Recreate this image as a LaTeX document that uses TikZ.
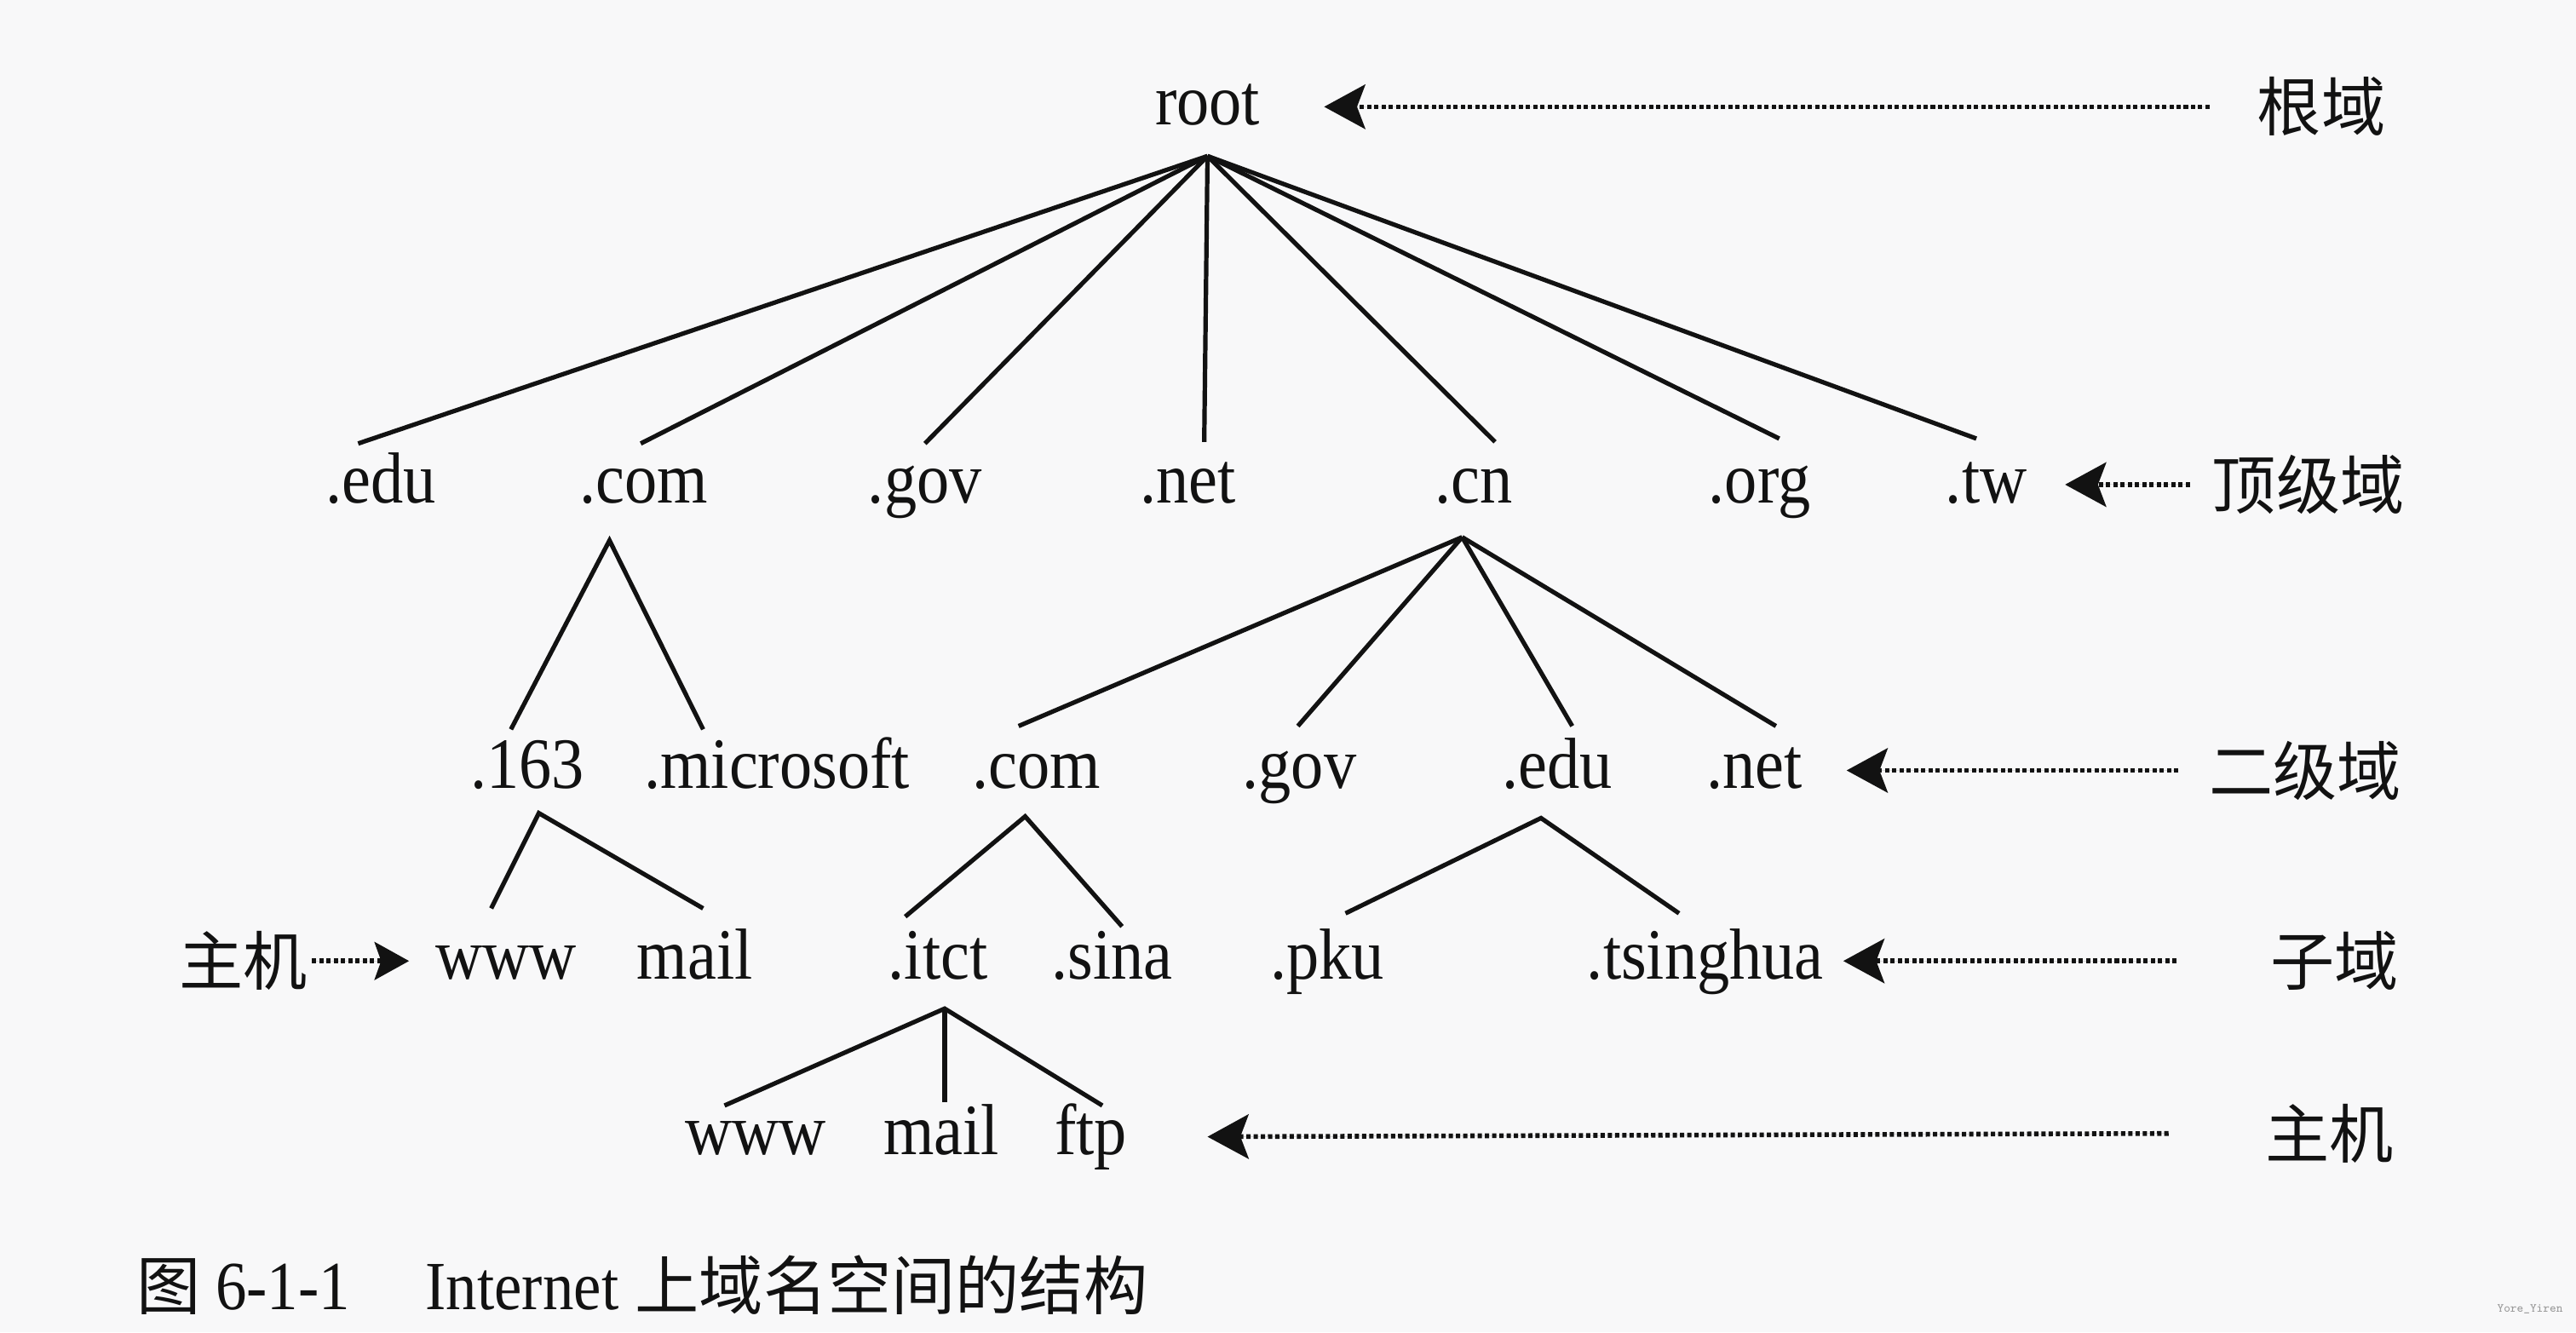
\documentclass[tikz,border=0pt]{standalone}
\usepackage{fontspec}
\setmainfont{Liberation Serif}[FakeStretch=0.9]
\newfontfamily\cjk{Noto Sans CJK SC}
\usetikzlibrary{arrows.meta}
\definecolor{bg}{RGB}{248,248,249}
\definecolor{ink}{RGB}{18,18,18}
\begin{document}
\begin{tikzpicture}[x=1pt,y=-1pt,
  lbl/.style={font=\fontsize{44}{50}\selectfont, inner sep=0pt, text height=32pt, text depth=10pt, text=ink},
  cn/.style={font=\cjk\fontsize{39}{45}\selectfont, inner sep=0pt, text=ink},
  edge/.style={line width=2.7pt, draw=ink},
  ptr/.style={line width=2.9pt, draw=ink, fill=ink, dash pattern=on 2.6pt off 1.8pt,
              -{Stealth[length=25pt,width=27pt,inset=5pt]}}]
\fill[bg] (0,0) rectangle (1568,811);
\useasboundingbox (0,0) rectangle (1568,811);

% ---- nodes ----
\node[lbl] (root) at (735,65) {root};

\node[lbl] (edu)  at (232,295) {.edu};
\node[lbl] (com)  at (392,295) {.com};
\node[lbl] (gov)  at (563,295) {.gov};
\node[lbl] (net)  at (723,295) {.net};
\node[lbl] (cn)   at (897,295) {.cn};
\node[lbl] (org)  at (1071,295) {.org};
\node[lbl] (tw)   at (1209,295) {.tw};

\node[lbl] (n163) at (321,469) {.163};
\node[lbl] (ms)   at (473,469) {.microsoft};
\node[lbl] (com2) at (631,469) {.com};
\node[lbl] (gov2) at (791,469) {.gov};
\node[lbl] (edu2) at (948,469) {.edu};
\node[lbl] (net2) at (1068,469) {.net};

\node[lbl] (www1)  at (308,585) {www};
\node[lbl] (mail1) at (423,585) {mail};
\node[lbl] (itct)  at (571,585) {.itct};
\node[lbl] (sina)  at (677,585) {.sina};
\node[lbl] (pku)   at (808,585) {.pku};
\node[lbl] (tsing) at (1038,585) {.tsinghua};

\node[lbl] (www2)  at (460,692) {www};
\node[lbl] (mail2) at (573,692) {mail};
\node[lbl] (ftp)   at (664,692) {ftp};

% ---- side labels ----
\node[cn] (L0) at (1413,65)  {根域};
\node[cn] (L1) at (1405,295) {顶级域};
\node[cn] (L2) at (1403,469) {二级域};
\node[cn] (L3) at (1421,585) {子域};
\node[cn] (L4) at (1418,690) {主机};
\node[cn] (L5) at (148,585)  {主机};

% ---- tree edges ----
\foreach \c/\dx/\dy in {edu/-14/-25, com/-2/-25, gov/0/-25, net/10/-26, cn/13/-26, org/12/-28, tw/-6/-28}
  \draw[edge] ([shift={(0,30)}]root.center) -- ([shift={(\dx,\dy)}]\c.center);

\draw[edge] ([shift={(-10,-25)}]n163.center) -- ([shift={(-21,34)}]com.center) -- ([shift={(-45,-25)}]ms.center);

\foreach \c/\dx in {com2/-11, gov2/-1, edu2/9, net2/13}
  \draw[edge] ([shift={(-7,32)}]cn.center) -- ([shift={(\dx,-27)}]\c.center);

\draw[edge] ([shift={(-9,-32)}]www1.center) -- ([shift={(7,26)}]n163.center) -- ([shift={(5,-32)}]mail1.center);
\draw[edge] ([shift={(-20,-27)}]itct.center) -- ([shift={(-7,28)}]com2.center) -- ([shift={(6,-21)}]sina.center);
\draw[edge] ([shift={(11,-29)}]pku.center) -- ([shift={(-10,29)}]edu2.center) -- ([shift={(-16,-29)}]tsing.center);

\draw[edge] ([shift={(-19,-19)}]www2.center) -- ([shift={(4,29)}]itct.center) -- ([shift={(7,-19)}]ftp.center);
\draw[edge] ([shift={(4,29)}]itct.center) -- ([shift={(2,-21)}]mail2.center);

% ---- pointer arrows ----
\draw[ptr] ([xshift=-68pt]L0.center) -- ([xshift=71pt]root.center);
\draw[ptr] ([xshift=-72pt]L1.center) -- ([xshift=48pt]tw.center);
\draw[ptr] ([xshift=-77pt]L2.center) -- ([xshift=56pt]net2.center);
\draw[ptr] ([xshift=-96pt]L3.center) -- ([xshift=84pt]tsing.center);
\draw[ptr] ([xshift=-98pt]L4.center) -- ([xshift=71pt]ftp.center);
\draw[ptr,-{Stealth[length=21pt,width=23pt,inset=4pt]}] ([xshift=42pt]L5.center) -- ([xshift=-59pt]www1.center);

% ---- caption ----
\node[anchor=base west, inner sep=0pt, text=ink, font=\fontsize{42}{50}\selectfont] (cap) at (83,797)
  {{\cjk\fontsize{39}{50}\selectfont 图}\hspace{9pt}6-1-1\hspace{46pt}Internet\hspace{10pt}{\cjk\fontsize{39}{50}\selectfont 上域名空间的结构}};

% ---- watermark ----
\node[inner sep=0pt, text=black!40, font=\ttfamily\fontsize{7.5}{9}\selectfont] (wm) at (1540,797) {Yore\_Yiren};
\end{tikzpicture}
\end{document}
